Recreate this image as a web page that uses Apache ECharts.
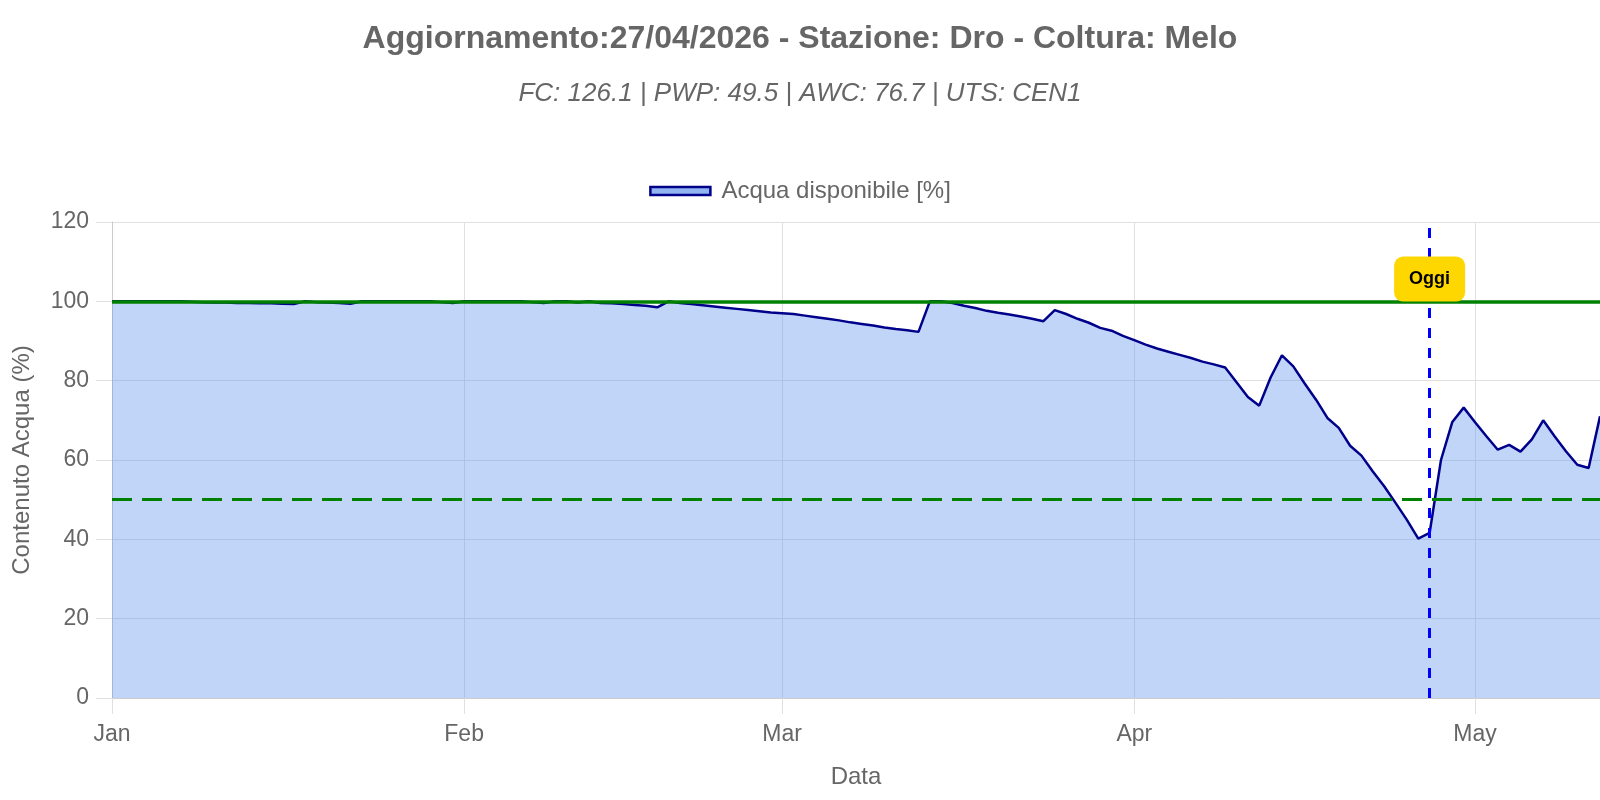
<!DOCTYPE html>
<html>
<head>
<meta charset="utf-8">
<script src="https://cdn.jsdelivr.net/npm/echarts@6/dist/echarts.min.js"></script>
<style>
html,body{margin:0;padding:0;background:#fff;}
#chart{width:1600px;height:800px;}
</style>
</head>
<body>
<div id="chart"></div>
<script>
const chartTitle = 'Aggiornamento:27/04/2026 - Stazione: Dro - Coltura: Melo';
const chartSubtitle = 'FC: 126.1 | PWP: 49.5 | AWC: 76.7 | UTS: CEN1';
const seriesName = 'Acqua disponibile [%]';
const yAxisName = 'Contenuto Acqua (%)';
const xAxisName = 'Data';
const startDate = [2026, 0, 1];
const axisMinDate = '2026-01-01';
const axisMaxDate = '2026-05-12';
const todayDate = '2026-04-27';
const todayLabel = 'Oggi';
const fcLevel = 100;
const thresholdLevel = 50;
const yMin = 0, yMax = 120, yStep = 20;

// daily available water (%) from 1 Jan 2026
const waterValues = [
  100,100,100,100,100,100,100,99.9,99.8,99.7,
  99.7,99.6,99.6,99.5,99.5,99.4,99.3,100,99.8,99.7,
  99.6,99.4,100,100,100,100,100,100,100,99.8,
  99.6,100,100,100,100,100,100,99.8,99.6,100,
  100,99.7,100,99.6,99.5,99.3,99.1,98.9,98.5,100,
  99.6,99.3,99.0,98.7,98.4,98.1,97.8,97.5,97.2,97.0,
  96.8,96.4,96.0,95.6,95.2,94.7,94.3,93.9,93.4,93.0,
  92.7,92.3,100,100,99.6,98.9,98.3,97.6,97.1,96.7,
  96.2,95.6,95.0,97.8,96.8,95.6,94.6,93.3,92.6,91.3,
  90.2,89.1,88.1,87.3,86.5,85.7,84.8,84.1,83.3,79.6,
  75.9,73.7,80.8,86.4,83.6,79.3,75.2,70.6,68.1,63.6,
  61.1,57.1,53.4,49.2,44.9,40.2,41.6,60.0,69.6,73.2,
  69.5,66.0,62.6,63.8,62.1,65.2,70.0,66.0,62.2,58.8,
  58.0,71.0
];

function pad(n){return (n<10?'0':'')+n;}
const dates = waterValues.map((v,i)=>{
  const d = new Date(startDate[0], startDate[1], startDate[2]+i);
  return d.getFullYear()+'-'+pad(d.getMonth()+1)+'-'+pad(d.getDate());
});

const FONT = '"Liberation Sans", Arial, Helvetica, sans-serif';
const chart = echarts.init(document.getElementById('chart'), null, {renderer:'canvas'});
const DAY = 86400000;
chart.setOption({
  animation:false,
  backgroundColor:'#ffffff',
  textStyle:{fontFamily:FONT},
  title:[
    {text:chartTitle,left:'center',top:14,
     textStyle:{fontFamily:FONT,fontSize:32,fontWeight:'bold',color:'#666666',lineHeight:40}},
    {text:chartSubtitle,left:'center',top:74,
     textStyle:{fontFamily:FONT,fontSize:26,fontStyle:'italic',fontWeight:'normal',color:'#666666',lineHeight:30}}
  ],
  legend:{
    top:174,left:'center',
    itemWidth:60,itemHeight:8,itemGap:10,
    textStyle:{fontFamily:FONT,fontSize:24,color:'#666666',lineHeight:24,padding:[0,0,0,6]},
    data:[{name:seriesName,icon:'rect',
      itemStyle:{color:'rgba(100,149,237,0.7)',borderColor:'#00008B',borderWidth:2.5}}]
  },
  grid:{left:112,right:0,top:222,bottom:102,outerBoundsMode:'none',containLabel:false},
  xAxis:{
    type:'time',min:axisMinDate,max:axisMaxDate,
    splitNumber:5,minInterval:28*DAY,maxInterval:31*DAY,
    name:xAxisName,nameLocation:'middle',nameGap:67,
    nameTextStyle:{fontFamily:FONT,fontSize:24,color:'#666666'},
    axisLine:{show:true,lineStyle:{color:'#cccccc',width:1}},
    axisTick:{show:true,length:16,lineStyle:{color:'#e0e0e0'}},
    axisLabel:{formatter:'{MMM}',fontFamily:FONT,fontSize:23,color:'#666666',margin:25,
      showMinLabel:true,showMaxLabel:false},
    splitLine:{show:true,lineStyle:{color:'#e0e0e0',width:1}}
  },
  yAxis:{
    type:'value',min:yMin,max:yMax,interval:yStep,
    name:yAxisName,nameLocation:'middle',nameGap:78,
    nameTextStyle:{fontFamily:FONT,fontSize:24,color:'#666666'},
    axisLine:{show:true,lineStyle:{color:'#cccccc',width:1}},
    axisTick:{show:true,length:16,lineStyle:{color:'#e0e0e0'}},
    axisLabel:{fontFamily:FONT,fontSize:23,color:'#666666',margin:23,padding:[4,0,0,0]},
    splitLine:{show:true,lineStyle:{color:'#e0e0e0',width:1}}
  },
  series:[{
    type:'line',name:seriesName,
    data:dates.map((d,i)=>[d,waterValues[i]]),
    showSymbol:false,symbol:'none',
    lineStyle:{color:'#00008B',width:2.5},
    itemStyle:{color:'#00008B'},
    areaStyle:{color:'rgba(100,149,237,0.4)',opacity:1,origin:'start'},
    markLine:{
      silent:true,symbol:'none',z:5,
      label:{show:false},
      data:[
        {yAxis:fcLevel,lineStyle:{color:'#008000',width:3.5,type:'solid'}},
        {yAxis:thresholdLevel,lineStyle:{color:'#008000',width:3,type:[20,10]}},
        {xAxis:todayDate,lineStyle:{color:'#0000FF',width:3,type:[10,10]}}
      ]
    },
    markPoint:{
      silent:true,z:10,
      data:[{coord:[todayDate,105.6],symbol:'rect',symbolSize:1,
        itemStyle:{color:'rgba(0,0,0,0)'},
        label:{show:true,position:'inside',formatter:todayLabel,
          backgroundColor:'#FFD700',borderRadius:9,padding:[14,15,13,15],
          fontFamily:FONT,fontSize:18,fontWeight:'bold',color:'#000000'}}]
    }
  }]
});
</script>
</body>
</html>
